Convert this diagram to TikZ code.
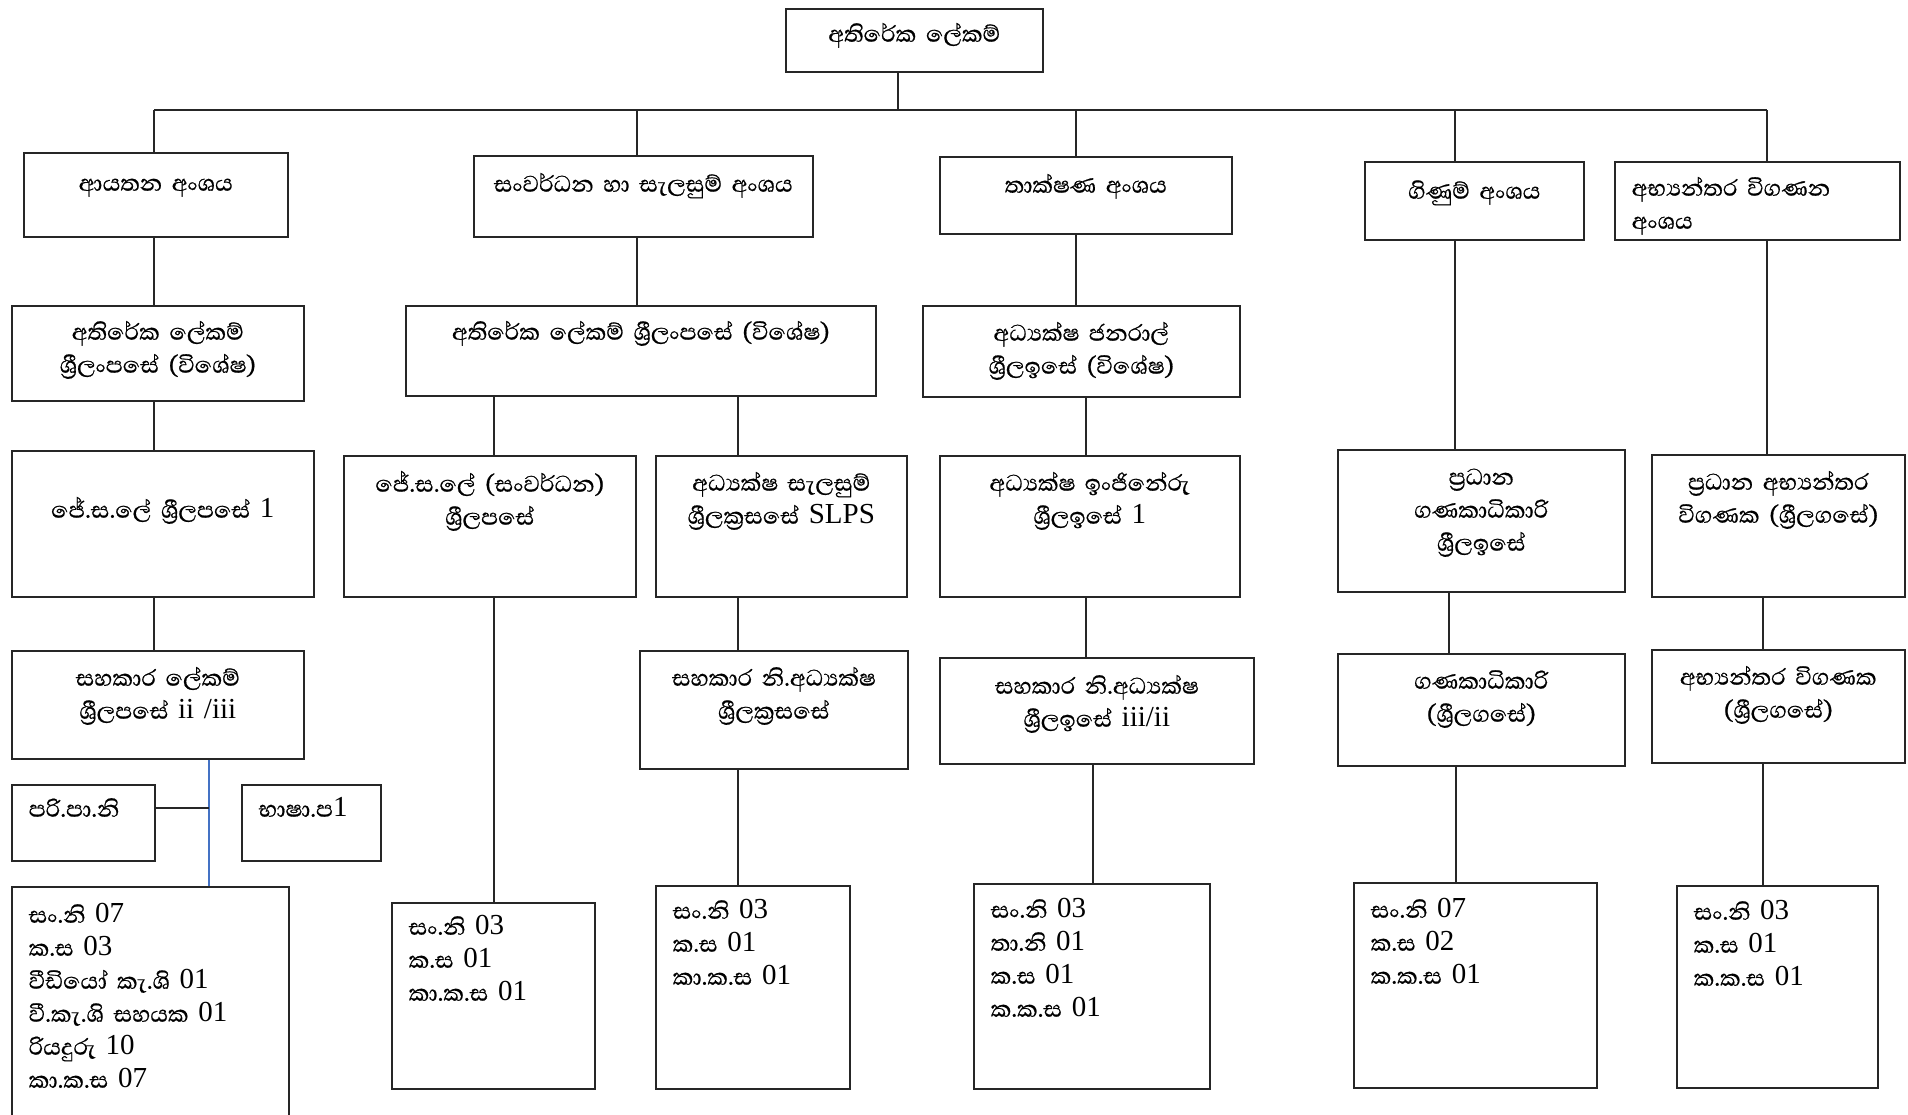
\documentclass[tikz,border=0pt]{standalone}
\usepackage{fontspec}
\setmainfont{Abhaya Libre}[Script=Sinhala, FakeBold=0.6]
\newfontfamily\lat{Liberation Serif}
\newcommand{\dg}[1]{{\lat #1}}
\definecolor{linkblue}{RGB}{68,114,196}
\tikzset{
  box/.style={draw=black!85, line width=1.5pt, anchor=north west, inner xsep=4pt, inner ysep=0pt,
    align=center, text height=34pt, font=\fontsize{29}{33}\selectfont},
  list/.style={box, align=left, inner xsep=17pt},
  link/.style={black!85, line width=1.3pt},
}
\begin{document}
\begin{tikzpicture}[x=1pt, y=-1pt]
    \useasboundingbox (0,0) rectangle (1908,1114);
    % 
    \node[box, text width=249pt, text height=33pt, text depth=30pt] (top) at (785,8) {අතිරේක ලේකම්};
    % 
    \node[box, text width=256pt, text height=38pt, text depth=46pt] (div1) at (23,152) {ආයතන අංශය};
    \node[box, text width=331pt, text height=36pt, text depth=45pt] (div2) at (473,155) {සංවර්ධන හා සැලසුම් අංශය};
    \node[box, text width=284pt, text height=36pt, text depth=41pt] (div3) at (939,156) {තාක්ෂණ අංශය};
    \node[box, text width=211pt, text height=37pt, text depth=41pt] (div4) at (1364,161) {ගිණුම් අංශය};
    \node[list, text width=251pt, text height=34pt, text depth=44pt] (div5) at (1614,161) {අභ්^^^^200dයන්තර විගණන\\අංශය};
    % 
    \node[box, text width=284pt, text depth=61pt] (l2a) at (11,305) {අතිරේක ලේකම්\\ශ්^^^^200dරීලංපසේ (විශේෂ)};
    \node[box, text width=462pt, text depth=56pt] (l2c) at (405,305) {අතිරේක ලේකම් ශ්^^^^200dරීලංපසේ (විශේෂ)};
    \node[box, text width=309pt, text height=35pt, text depth=56pt] (l2t) at (922,305) {අධ්^^^^200dයක්ෂ ජනරාල්\\ශ්^^^^200dරීලඉසේ (විශේෂ)};
    % 
    \node[box, text width=294pt, text height=67pt, text depth=79pt] (l3a) at (11,450) {ජේ.ස.ලේ ශ්^^^^200dරීලපසේ \dg{1}};
    \node[box, text width=284pt, text height=36pt, text depth=105pt] (l3b) at (343,455) {ජේ.ස.ලේ (සංවර්ධන)\\ශ්^^^^200dරීලපසේ};
    \node[box, text width=243pt, text height=35pt, text depth=106pt] (l3c) at (655,455) {අධ්^^^^200dයක්ෂ සැලසුම්\\ශ්^^^^200dරීලක්^^^^200dරසසේ \dg{SLPS}};
    \node[box, text width=292pt, text height=35pt, text depth=106pt] (l3d) at (939,455) {අධ්^^^^200dයක්ෂ ඉංජිනේරු\\ශ්^^^^200dරීලඉසේ \dg{1}};
    \node[box, text width=279pt, text height=35pt, text depth=107pt] (l3e) at (1337,449) {ප්^^^^200dරධාන\\ගණකාධිකාරි\\ශ්^^^^200dරීලඉසේ};
    \node[box, text width=245pt, text height=35pt, text depth=107pt] (l3f) at (1651,454) {ප්^^^^200dරධාන අභ්^^^^200dයන්තර\\විගණක (ශ්^^^^200dරීලගසේ)};
    % 
    \node[box, text width=284pt, text height=35pt, text depth=73pt] (l4a) at (11,650) {සහකාර ලේකම්\\ශ්^^^^200dරීලපසේ \dg{ii /iii}};
    \node[box, text width=260pt, text height=35pt, text depth=83pt] (l4c) at (639,650) {සහකාර නි.අධ්^^^^200dයක්ෂ\\ශ්^^^^200dරීලක්^^^^200dරසසේ};
    \node[box, text width=306pt, text height=36pt, text depth=70pt] (l4d) at (939,657) {සහකාර නි.අධ්^^^^200dයක්ෂ\\ශ්^^^^200dරීලඉසේ \dg{iii/ii}};
    \node[box, text width=279pt, text height=35pt, text depth=77pt] (l4e) at (1337,653) {ගණකාධිකාරි\\(ශ්^^^^200dරීලගසේ)};
    \node[box, text width=245pt, text height=35pt, text depth=78pt] (l4f) at (1651,649) {අභ්^^^^200dයන්තර විගණක\\(ශ්^^^^200dරීලගසේ)};
    % 
    \node[list, text width=109pt, text height=32pt, text depth=44pt] (pari) at (11,784) {පරි.පා.නි};
    \node[list, text width=105pt, text height=32pt, text depth=44pt] (bhasha) at (241,784) {භාෂා.ප\dg{1}};
    % 
    \node[list, text width=243pt, text height=36pt, text depth=224pt] (lsta) at (11,886) {සං.නි \dg{07}\\ක.ස \dg{03}\\වීඩියෝ කැ.ශි \dg{01}\\වී.කැ.ශි සහයක \dg{01}\\රියදුරු \dg{10}\\කා.ක.ස \dg{07}};
    \node[list, text width=169pt, text height=32pt, text depth=154pt] (lstb) at (391,902) {සං.නි \dg{03}\\ක.ස \dg{01}\\කා.ක.ස \dg{01}};
    \node[list, text width=160pt, text height=33pt, text depth=170pt] (lstc) at (655,885) {සං.නි \dg{03}\\ක.ස \dg{01}\\කා.ක.ස \dg{01}};
    \node[list, text width=202pt, text height=34pt, text depth=171pt] (lstd) at (973,883) {සං.නි \dg{03}\\තා.නි \dg{01}\\ක.ස \dg{01}\\ක.ක.ස \dg{01}};
    \node[list, text width=209pt, text height=35pt, text depth=170pt] (lste) at (1353,882) {සං.නි \dg{07}\\ක.ස \dg{02}\\ක.ක.ස \dg{01}};
    \node[list, text width=167pt, text height=34pt, text depth=168pt] (lstf) at (1676,885) {සං.නි \dg{03}\\ක.ස \dg{01}\\ක.ක.ස \dg{01}};
    % 
    \coordinate (bus) at (0,110);
    \coordinate (ct) at (898,0);
    \coordinate (ca) at (154,0);
    \coordinate (cab) at (209,808);
    \coordinate (cb) at (637,0);
    \coordinate (cb1) at (494,0);
    \coordinate (cb2) at (738,0);
    \coordinate (cc) at (1076,0);
    \coordinate (cc2) at (1086,0);
    \coordinate (cc3) at (1093,0);
    \coordinate (cd) at (1455,0);
    \coordinate (cd2) at (1449,0);
    \coordinate (cd3) at (1456,0);
    \coordinate (ce) at (1767,0);
    \coordinate (ce2) at (1763,0);
    % 
    \draw[link] (top.south -| ct) -- (ct |- bus);
    \draw[link] (ca |- bus) -- (ce |- bus);
    \draw[link] (ca |- bus) -- (ca |- div1.north);
    \draw[link] (cb |- bus) -- (cb |- div2.north);
    \draw[link] (cc |- bus) -- (cc |- div3.north);
    \draw[link] (cd |- bus) -- (cd |- div4.north);
    \draw[link] (ce |- bus) -- (ce |- div5.north);
    % 
    \draw[link] (div1.south -| ca) -- (l2a.north -| ca);
    \draw[link] (l2a.south -| ca) -- (l3a.north -| ca);
    \draw[link] (l3a.south -| ca) -- (l4a.north -| ca);
    \draw[linkblue, line width=1.3pt] (l4a.south -| cab) -- (lsta.north -| cab);
    \draw[link] (pari.east |- cab) -- (cab);
    % 
    \draw[link] (div2.south -| cb) -- (l2c.north -| cb);
    \draw[link] (l2c.south -| cb1) -- (l3b.north -| cb1);
    \draw[link] (l3b.south -| cb1) -- (lstb.north -| cb1);
    \draw[link] (l2c.south -| cb2) -- (l3c.north -| cb2);
    \draw[link] (l3c.south -| cb2) -- (l4c.north -| cb2);
    \draw[link] (l4c.south -| cb2) -- (lstc.north -| cb2);
    % 
    \draw[link] (div3.south -| cc) -- (l2t.north -| cc);
    \draw[link] (l2t.south -| cc2) -- (l3d.north -| cc2);
    \draw[link] (l3d.south -| cc2) -- (l4d.north -| cc2);
    \draw[link] (l4d.south -| cc3) -- (lstd.north -| cc3);
    % 
    \draw[link] (div4.south -| cd) -- (l3e.north -| cd);
    \draw[link] (l3e.south -| cd2) -- (l4e.north -| cd2);
    \draw[link] (l4e.south -| cd3) -- (lste.north -| cd3);
    % 
    \draw[link] (div5.south -| ce) -- (l3f.north -| ce);
    \draw[link] (l3f.south -| ce2) -- (l4f.north -| ce2);
    \draw[link] (l4f.south -| ce2) -- (lstf.north -| ce2);
  \end{tikzpicture}
\end{document}
